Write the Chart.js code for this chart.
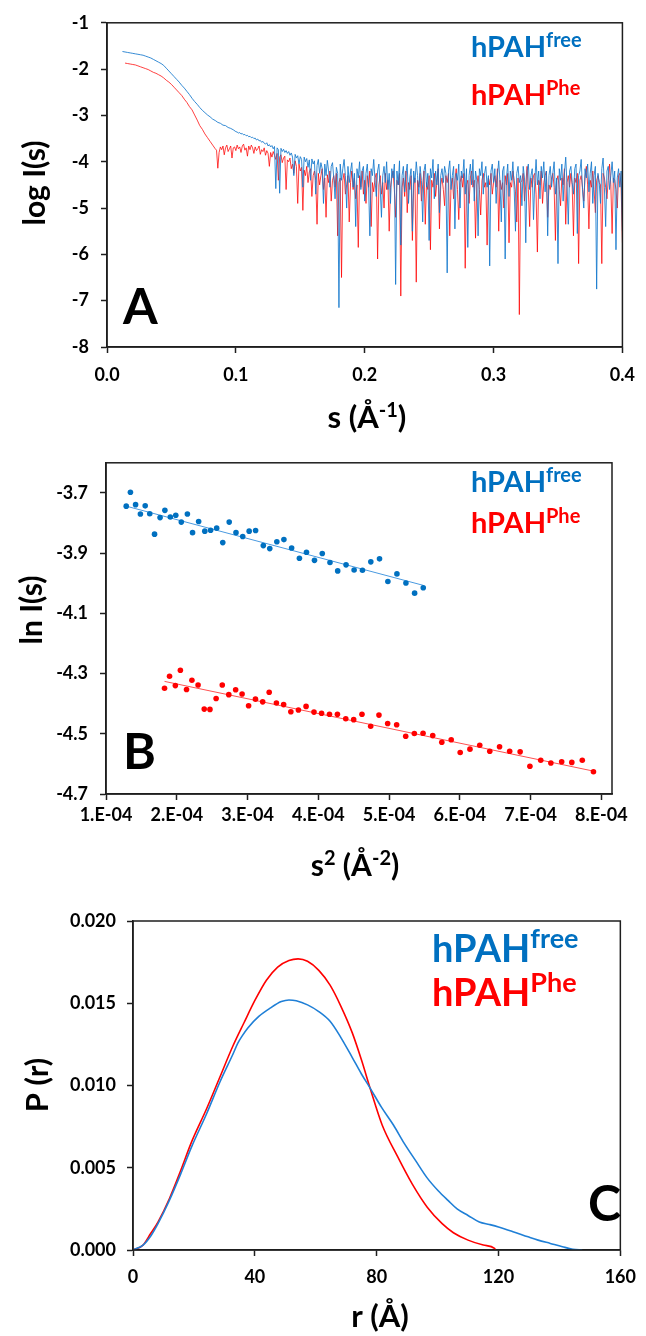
<!DOCTYPE html>
<html><head><meta charset="utf-8">
<script src="https://cdn.jsdelivr.net/npm/chart.js@4.4.1/dist/chart.umd.min.js"></script>
<style>
html,body{margin:0;padding:0;background:#fff}
body{width:646px;height:1336px;position:relative;overflow:hidden}
.p{position:absolute;left:0;width:646px}
</style></head><body>
<div class="p" style="top:0;height:440px"><canvas id="cA"></canvas></div>
<div class="p" style="top:440px;height:455px"><canvas id="cB"></canvas></div>
<div class="p" style="top:895px;height:441px"><canvas id="cC"></canvas></div>
<script>
// ---------- series names ----------
const seriesBase = ['hPAH', 'hPAH'];
const seriesSup = ['free', 'Phe'];

// ---------- Panel A: log I(s) vs s ----------
// low-resolution start segment (step 0.002) and fine segment (step 0.001)
const freeLowStart = 0.012, freeLowStep = 0.002;
const logFreeLow = [
 -1.62,-1.63,-1.64,-1.65,-1.66,-1.67,-1.68,-1.69,-1.70,-1.72,
 -1.74,-1.76,-1.79,-1.82,-1.85,-1.88,-1.92,-1.98,-2.04,-2.10,
 -2.16,-2.22,-2.28,-2.35,-2.41,-2.48,-2.55,-2.63,-2.70,-2.76,
 -2.83,-2.89,-2.94,-2.99,-3.03,-3.08,-3.11,-3.15,-3.17,-3.21,
 -3.22,-3.26,-3.28,-3.31,-3.35
];
const freeHighStart = 0.101, freeHighStep = 0.001;
const logFreeHigh = [
 -3.36,-3.38,-3.37,-3.40,-3.39,-3.42,-3.41,-3.44,-3.43,-3.46,-3.45,-3.48,-3.47,-3.50,-3.49,-3.53,-3.51,-3.55,-3.54,-3.58,
 -3.56,-3.60,-3.62,-3.59,-3.66,-3.63,-3.68,-3.65,-3.72,-3.67,-4.58,-3.70,-3.74,-4.68,-3.71,-3.78,-3.73,-3.80,-3.76,-3.82,
 -3.78,-3.86,-3.81,-3.90,-4.30,-3.84,-3.92,-3.87,-4.05,-3.89,-3.95,-4.55,-3.90,-4.00,-3.93,-4.12,-3.96,-4.40,-3.94,-4.05,
 -3.98,-4.70,-4.08,-3.95,-4.25,-4.02,-4.15,-4.90,-4.05,-4.30,-3.97,-4.20,-4.55,-4.10,-4.02,-4.35,-4.80,-4.12,-4.25,-7.15,
 -4.05,-4.40,-4.15,-3.95,-4.30,-5.00,-4.10,-4.45,-4.20,-4.02,-4.55,-4.25,-5.40,-4.15,-4.35,-4.00,-4.60,-4.20,-4.10,-4.85,
 -4.25,-4.05,-4.50,-5.60,-4.15,-4.30,-3.95,-4.40,-4.75,-4.20,-4.05,-4.55,-5.20,-4.30,-4.10,-4.45,-4.00,-4.60,-4.25,-4.90,
 -4.15,-4.35,-4.05,-6.65,-4.20,-4.50,-3.98,-5.80,-4.30,-4.10,-4.65,-4.25,-4.05,-4.90,-4.35,-4.15,-5.50,-4.20,-4.45,-4.00,
 -4.30,-4.70,-4.10,-4.40,-5.30,-4.20,-4.05,-4.55,-4.25,-5.70,-4.15,-4.35,-3.95,-4.80,-4.20,-4.50,-4.05,-5.10,-4.30,-4.15,
 -4.45,-4.10,-4.25,-6.40,-4.20,-3.98,-4.60,-4.30,-4.10,-5.45,-4.25,-4.40,-4.05,-5.00,-4.20,-4.35,-3.95,-4.70,-4.15,-5.85,
 -4.30,-4.05,-4.50,-3.95,-4.85,-4.20,-4.40,-5.60,-4.15,-4.30,-4.00,-4.70,-4.25,-4.10,-4.55,-4.30,-6.25,-4.20,-4.05,-4.45,
 -4.15,-4.90,-4.30,-3.98,-4.45,-5.30,-4.20,-4.10,-6.10,-4.35,-4.05,-4.75,-4.20,-4.40,-4.00,-4.60,-5.50,-4.25,-4.10,-4.45,
 -4.30,-4.95,-4.10,-4.35,-5.75,-4.20,-4.05,-4.60,-4.30,-4.15,-5.25,-4.40,-3.95,-4.50,-4.20,-4.80,-4.10,-4.35,-4.00,-4.65,
 -4.20,-5.60,-4.30,-4.10,-4.55,-4.25,-4.00,-4.70,-4.35,-6.20,-4.15,-4.40,-4.05,-4.85,-4.25,-3.90,-4.50,-5.35,-4.20,-4.10,
 -4.45,-4.70,-4.15,-4.05,-5.55,-4.30,-4.20,-3.95,-4.60,-5.00,-4.15,-4.35,-4.05,-4.65,-4.25,-4.00,-4.90,-4.30,-4.10,-6.75,
 -4.25,-4.45,-4.90,-4.15,-3.92,-4.55,-5.40,-4.20,-4.10,-4.60,-4.30,-4.00,-4.45,-4.20,-5.90,-4.35,-4.15,-4.55,-4.20,-5.50
];
const pheLowStart = 0.014, pheLowStep = 0.002;
const logPheLow = [
 -1.87,-1.88,-1.89,-1.90,-1.91,-1.93,-1.95,-1.97,-1.99,-2.01,
 -2.04,-2.07,-2.09,-2.12,-2.15,-2.19,-2.24,-2.28,-2.33,-2.39,
 -2.45,-2.51,-2.57,-2.65,-2.72,-2.81,-2.88,-2.99,-3.10,-3.22,
 -3.30,-3.40,-3.48,-3.56,-3.64,-3.72
];
const pheHighStart = 0.085, pheHighStep = 0.001;
const logPheHigh = [
 -3.75,-4.14,-3.80,-3.68,-3.74,-3.66,-3.85,-3.70,-3.64,-3.78,-3.72,-3.66,-3.92,-3.70,-3.68,-3.76,
 -3.64,-3.72,-3.68,-3.80,-3.66,-3.62,-3.75,-3.70,-3.88,-3.66,-3.74,-3.64,-3.70,-3.82,-3.68,-3.76,-3.72,-3.66,-3.84,-3.74,
 -3.78,-3.70,-3.86,-3.76,-3.82,-4.10,-3.80,-3.90,-3.78,-3.86,-3.95,-3.82,-4.40,-3.90,-3.85,-4.02,-3.92,-3.88,-4.60,-3.96,
 -4.00,-3.92,-4.15,-4.05,-4.25,-3.98,-4.10,-4.90,-4.05,-4.20,-4.12,-5.05,-4.18,-4.30,-4.10,-4.45,-4.22,-4.15,-4.75,-4.30,
 -4.20,-4.40,-5.35,-4.25,-4.50,-4.30,-4.15,-4.60,-4.35,-5.20,-4.28,-4.45,-4.20,-4.85,-4.40,-4.30,-4.55,-4.25,-5.60,-4.45,
 -4.35,-6.50,-4.40,-4.25,-4.70,-4.50,-4.30,-5.30,-4.45,-4.20,-4.60,-4.35,-4.80,-4.50,-5.85,-4.30,-4.55,-4.20,-4.70,-4.40,
 -4.90,-4.30,-4.55,-4.20,-5.40,-4.45,-4.65,-4.35,-4.25,-6.10,-4.50,-4.30,-4.70,-4.45,-5.00,-4.25,-4.60,-4.40,-5.50,-4.55,
 -4.35,-4.20,-4.60,-5.20,-4.40,-4.50,-4.25,-6.90,-4.55,-4.35,-4.75,-4.20,-5.10,-4.45,-4.60,-4.30,-5.70,-4.50,-4.35,-6.60,
 -4.40,-4.55,-4.25,-4.85,-4.50,-4.20,-5.35,-4.45,-4.60,-4.30,-5.90,-4.40,-4.55,-4.25,-4.75,-4.45,-4.15,-5.45,-4.50,-4.35,
 -4.60,-4.95,-4.30,-4.45,-4.25,-5.60,-4.50,-4.35,-4.80,-4.40,-4.15,-4.60,-5.25,-4.45,-4.30,-4.55,-4.25,-6.30,-4.50,-4.40,
 -4.90,-4.35,-4.20,-4.55,-4.40,-5.65,-4.50,-4.30,-4.60,-5.15,-4.40,-4.25,-4.55,-4.45,-5.80,-4.35,-4.50,-4.25,-4.70,-4.45,
 -4.30,-4.55,-4.15,-5.50,-4.40,-4.60,-4.45,-5.00,-4.30,-4.50,-4.25,-5.75,-4.45,-4.55,-4.20,-4.40,-4.65,-5.30,-4.35,-7.30,
 -4.45,-4.40,-4.25,-4.85,-4.50,-4.10,-4.60,-5.40,-4.35,-4.55,-4.30,-4.25,-4.70,-5.95,-4.40,-4.50,-4.20,-4.90,-4.45,-4.30,
 -4.20,-5.20,-4.50,-4.60,-4.35,-4.25,-4.55,-5.70,-4.40,-4.30,-4.60,-4.95,-4.35,-4.50,-4.15,-5.35,-4.45,-4.30,-4.55,-4.25,
 -4.50,-5.60,-4.35,-4.45,-4.25,-6.20,-4.40,-4.30,-4.55,-4.85,-4.35,-4.10,-4.50,-5.45,-4.40,-4.55,-4.20,-4.60,-5.10,-4.40,
 -4.30,-4.45,-4.50,-6.20,-4.25,-4.35,-4.55,-4.80,-4.40,-4.05,-4.50,-5.55,-4.35,-4.40,-4.60,-5.00,-4.30,-4.25,-4.55,-5.75
];
const ticksAX = [0, 0.1, 0.2, 0.3, 0.4];
const labelsAX = ['0.0', '0.1', '0.2', '0.3', '0.4'];
const ticksAY = [-8, -7, -6, -5, -4, -3, -2, -1];
const labelsAY = ['-8', '-7', '-6', '-5', '-4', '-3', '-2', '-1'];

// ---------- Panel B: Guinier ----------
const s2Free = [1.286e-4,1.345e-4,1.418e-4,1.486e-4,1.554e-4,1.618e-4,1.686e-4,1.764e-4,1.832e-4,1.909e-4,
 1.986e-4,2.064e-4,2.150e-4,2.223e-4,2.309e-4,2.396e-4,2.478e-4,2.564e-4,2.650e-4,2.741e-4,
 2.837e-4,2.932e-4,3.023e-4,3.114e-4,3.223e-4,3.314e-4,3.414e-4,3.514e-4,3.623e-4,3.733e-4,
 3.833e-4,3.946e-4,4.056e-4,4.165e-4,4.274e-4,4.392e-4,4.506e-4,4.624e-4,4.742e-4,4.865e-4,
 4.983e-4,5.111e-4,5.238e-4,5.361e-4,5.483e-4];
const lnFree = [-3.744,-3.698,-3.739,-3.770,-3.743,-3.769,-3.837,-3.782,-3.758,-3.780,
 -3.774,-3.797,-3.770,-3.832,-3.795,-3.827,-3.824,-3.817,-3.865,-3.797,
 -3.832,-3.845,-3.827,-3.825,-3.875,-3.885,-3.862,-3.855,-3.883,-3.917,
 -3.897,-3.924,-3.901,-3.931,-3.959,-3.939,-3.956,-3.957,-3.929,-3.919,
 -3.994,-3.969,-3.999,-4.033,-4.015];
const s2Phe = [1.827e-4,1.898e-4,1.980e-4,2.051e-4,2.138e-4,2.214e-4,2.301e-4,2.388e-4,2.469e-4,2.556e-4,
 2.643e-4,2.735e-4,2.832e-4,2.923e-4,3.015e-4,3.112e-4,3.214e-4,3.306e-4,3.408e-4,3.510e-4,
 3.612e-4,3.719e-4,3.827e-4,3.939e-4,4.046e-4,4.158e-4,4.270e-4,4.388e-4,4.500e-4,4.617e-4,
 4.740e-4,4.857e-4,4.980e-4,5.107e-4,5.235e-4,5.357e-4,5.480e-4,5.617e-4,5.745e-4,5.878e-4,
 6.005e-4,6.143e-4,6.281e-4,6.423e-4,6.561e-4,6.704e-4,6.852e-4,6.990e-4,7.143e-4,7.286e-4,
 7.439e-4,7.582e-4,7.730e-4,7.888e-4];
const lnPhe = [-4.349,-4.309,-4.340,-4.289,-4.353,-4.322,-4.338,-4.418,-4.419,-4.383,
 -4.338,-4.370,-4.354,-4.368,-4.407,-4.385,-4.394,-4.362,-4.398,-4.403,
 -4.427,-4.421,-4.409,-4.428,-4.432,-4.435,-4.435,-4.450,-4.453,-4.435,
 -4.475,-4.438,-4.466,-4.470,-4.508,-4.499,-4.498,-4.506,-4.528,-4.520,
 -4.562,-4.551,-4.538,-4.558,-4.543,-4.558,-4.560,-4.608,-4.588,-4.597,
 -4.593,-4.595,-4.588,-4.626];
const fitFreeX = [1.286e-4, 5.483e-4], fitFreeY = [-3.744, -4.007];
const fitPheX = [1.827e-4, 7.888e-4], fitPheY = [-4.326, -4.624];
const ticksBX = [1e-4, 2e-4, 3e-4, 4e-4, 5e-4, 6e-4, 7e-4, 8e-4];
const labelsBX = ['1.E-04','2.E-04','3.E-04','4.E-04','5.E-04','6.E-04','7.E-04','8.E-04'];
const ticksBY = [-4.7, -4.5, -4.3, -4.1, -3.9, -3.7];
const labelsBY = ['-4.7', '-4.5', '-4.3', '-4.1', '-3.9', '-3.7'];

// ---------- Panel C: P(r) ----------
const rFree = [0,3.3,6,8.2,11.9,15.6,19.3,24.2,28.5,32.8,34.5,35.8,37.7,41.3,45,48.7,51.2,53.6,57.3,61,64.7,68.3,72,75,78,
 81.5,85.5,89,92.9,96.5,100.2,103.5,106.4,110,113.7,117,120,125,129.7,133,137,141,144.4,147.5];
const pFree = [0,0.0003,0.0009,0.0016,0.0030,0.0046,0.0063,0.0083,0.0102,0.0119,0.0126,0.0130,0.0135,0.0142,0.0147,0.0151,0.0152,0.01515,0.0149,0.01449,0.0139,0.0129,0.0117,0.0107,0.0098,
 0.0087,0.0076,0.0065,0.0054,0.0044,0.0036,0.0030,0.0025,0.0021,0.0017,0.00155,0.0014,0.0011,0.0008,0.0006,0.0004,0.0002,0.00005,0];
const rPhe = [0,3.3,5.8,8.2,11.9,15.6,19.3,24.2,28.5,32.8,36.4,40.1,43.8,47.5,51.2,54.2,57.3,61,64.7,68.3,72,75.1,77.9,
 81.8,86.8,91.7,96.6,101.5,105.2,110,115,118.7,119];
const pPhe = [0,0.0003,0.0010,0.0017,0.0031,0.0048,0.0066,0.0086,0.0105,0.0124,0.0138,0.0152,0.0164,0.0172,0.0176,0.0177,0.01755,0.0170,0.0161,0.0148,0.0132,0.0115,0.0098,
 0.0076,0.0057,0.0040,0.0026,0.0016,0.00105,0.0006,0.0003,0.0001,0];
const ticksCX = [0, 40, 80, 120, 160];
const labelsCX = ['0', '40', '80', '120', '160'];
const ticksCY = [0, 0.005, 0.01, 0.015, 0.02];
const labelsCY = ['0.000', '0.005', '0.010', '0.015', '0.020'];

// ---------- drawing helpers ----------
const FONT = 'Lato, "Open Sans", sans-serif';
const INK = '#1e1e1e';
const BLUE = '#0070C0', RED = '#FF0000';

function drawRich(ctx, parts, x, y, size, supSize, align, color) {
  let w = 0;
  parts.forEach(p => { ctx.font = `bold ${p.sup ? supSize : size}px ${FONT}`; p._w = ctx.measureText(p.t).width; w += p._w; });
  let cx = align === 'center' ? x - w / 2 : x;
  ctx.fillStyle = color; ctx.textBaseline = 'alphabetic'; ctx.textAlign = 'left';
  parts.forEach(p => {
    ctx.font = `bold ${p.sup ? supSize : size}px ${FONT}`;
    ctx.fillText(p.t, cx, p.sup ? y - size * 0.36 : y);
    cx += p._w;
  });
}

const decor = {
  id: 'decor',
  afterDatasetsDraw(chart, args, o) {
    const ctx = chart.ctx, a = chart.chartArea;
    ctx.save();
    ctx.strokeStyle = INK; ctx.lineWidth = 1.5;
    ctx.strokeRect(a.left, a.top, a.right - a.left, a.bottom - a.top);
    ctx.save();
    ctx.translate(o.yt.x, o.yt.y); ctx.rotate(-Math.PI / 2);
    ctx.font = `bold ${o.yt.size}px ${FONT}`; ctx.fillStyle = '#000';
    ctx.textAlign = 'center'; ctx.textBaseline = 'middle';
    ctx.fillText(o.yt.text, 0, 0);
    ctx.restore();
    drawRich(ctx, o.xt.parts, o.xt.x, o.xt.y, o.xt.size, o.xt.sup, 'center', '#000');
    drawRich(ctx, [{t: seriesBase[0]}, {t: seriesSup[0], sup: true}], o.lg.x, o.lg.y1, o.lg.size, o.lg.sup, 'left', BLUE);
    drawRich(ctx, [{t: seriesBase[1]}, {t: seriesSup[1], sup: true}], o.lg.x, o.lg.y2, o.lg.size, o.lg.sup, 'left', RED);
    ctx.font = `bold ${o.lt.size}px ${FONT}`; ctx.fillStyle = '#000';
    ctx.textAlign = 'left'; ctx.textBaseline = 'alphabetic';
    ctx.fillText(o.lt.t, o.lt.x, o.lt.y);
    ctx.restore();
  }
};

function axis(pos, min, max, ticks, labels, fit, pad) {
  return {
    type: 'linear', position: pos, min: min, max: max,
    afterBuildTicks: s => { s.ticks = ticks.map(v => ({value: v})); },
    afterFit: s => { if (pos === 'left') s.width = fit; else s.height = fit; },
    ticks: { autoSkip: false, maxRotation: 0, minRotation: 0, padding: pad, color: '#000',
      font: {family: FONT, size: 18, weight: 'bold'},
      callback: (v, i) => labels[i] },
    grid: { drawOnChartArea: false, drawTicks: true, tickLength: 6, tickWidth: 1.5, tickColor: INK, color: INK },
    border: { display: true, color: INK, width: 1.5 }
  };
}

function baseOpts(pad, scales, deco) {
  return {
    responsive: true, maintainAspectRatio: false, animation: false, events: [],
    layout: {padding: pad},
    plugins: {legend: {display: false}, tooltip: {enabled: false}, decor: deco},
    scales: scales
  };
}

function seg(values, start, step) { return values.map((y, i) => ({x: start + i * step, y: y})); }

// ---------- Chart A ----------
new Chart(document.getElementById('cA'), {
  type: 'scatter',
  data: {datasets: [
    {data: seg(logFreeLow, freeLowStart, freeLowStep).concat(seg(logFreeHigh, freeHighStart, freeHighStep)), showLine: true,
     borderColor: 'rgba(20,120,205,0.85)', borderWidth: 1, pointRadius: 0},
    {data: seg(logPheLow, pheLowStart, pheLowStep).concat(seg(logPheHigh, pheHighStart, pheHighStep)), showLine: true,
     borderColor: 'rgba(255,0,0,0.75)', borderWidth: 1, pointRadius: 0}
  ]},
  options: baseOpts({top: 19, right: 17, left: 0, bottom: 0}, {
    x: axis('bottom', 0, 0.4, ticksAX, labelsAX, 93, 11),
    y: axis('left', -8, -1, ticksAY, labelsAY, 107, 12)
  }, {
    yt: {text: 'log I(s)', x: 35, y: 183, size: 30},
    xt: {parts: [{t: 's (Å'}, {t: '-1', sup: true}, {t: ')'}], x: 367, y: 428, size: 31, sup: 20},
    lg: {x: 471, y1: 57, y2: 105, size: 29, sup: 20},
    lt: {t: 'A', x: 123, y: 324, size: 50}
  }),
  plugins: [decor]
});

// ---------- Chart B ----------
new Chart(document.getElementById('cB'), {
  type: 'scatter',
  data: {datasets: [
    {data: s2Free.map((x, i) => ({x: x, y: lnFree[i]})), pointRadius: 2.8, pointBackgroundColor: BLUE, pointBorderWidth: 0},
    {data: s2Phe.map((x, i) => ({x: x, y: lnPhe[i]})), pointRadius: 2.8, pointBackgroundColor: RED, pointBorderWidth: 0},
    {data: fitFreeX.map((x, i) => ({x: x, y: fitFreeY[i]})), showLine: true, pointRadius: 0, borderColor: '#4a9ae0', borderWidth: 1},
    {data: fitPheX.map((x, i) => ({x: x, y: fitPheY[i]})), showLine: true, pointRadius: 0, borderColor: '#ff5050', borderWidth: 1}
  ]},
  options: baseOpts({top: 8, right: 34, left: 0, bottom: 0}, {
    x: axis('bottom', 1e-4, 8.15e-4, ticksBX, labelsBX, 101, 4),
    y: axis('left', -4.7, -3.6, ticksBY, labelsBY, 106, 12)
  }, {
    yt: {text: 'ln I(s)', x: 32, y: 170, size: 30},
    xt: {parts: [{t: 's'}, {t: '2', sup: true}, {t: ' (Å'}, {t: '-2', sup: true}, {t: ')'}], x: 355, y: 436, size: 30, sup: 20},
    lg: {x: 471, y1: 52, y2: 93, size: 29, sup: 20},
    lt: {t: 'B', x: 123, y: 329, size: 50}
  }),
  plugins: [decor]
});

// ---------- Chart C ----------
new Chart(document.getElementById('cC'), {
  type: 'scatter',
  data: {datasets: [
    {data: rFree.map((x, i) => ({x: x, y: pFree[i]})), showLine: true, pointRadius: 0,
     borderColor: '#1f7fd6', borderWidth: 1.6, cubicInterpolationMode: 'monotone'},
    {data: rPhe.map((x, i) => ({x: x, y: pPhe[i]})), showLine: true, pointRadius: 0,
     borderColor: RED, borderWidth: 1.6, cubicInterpolationMode: 'monotone'}
  ]},
  options: baseOpts({top: 26, right: 18, left: 0, bottom: 0}, {
    x: axis('bottom', 0, 160, ticksCX, labelsCX, 86, 10),
    y: axis('left', 0, 0.02, ticksCY, labelsCY, 133, 11)
  }, {
    yt: {text: 'P (r)', x: 38, y: 190, size: 31},
    xt: {parts: [{t: 'r (Å)'}], x: 380, y: 432, size: 31, sup: 20},
    lg: {x: 432, y1: 67, y2: 111, size: 38, sup: 27},
    lt: {t: 'C', x: 588, y: 326, size: 50}
  }),
  plugins: [decor]
});
</script>
</body></html>
